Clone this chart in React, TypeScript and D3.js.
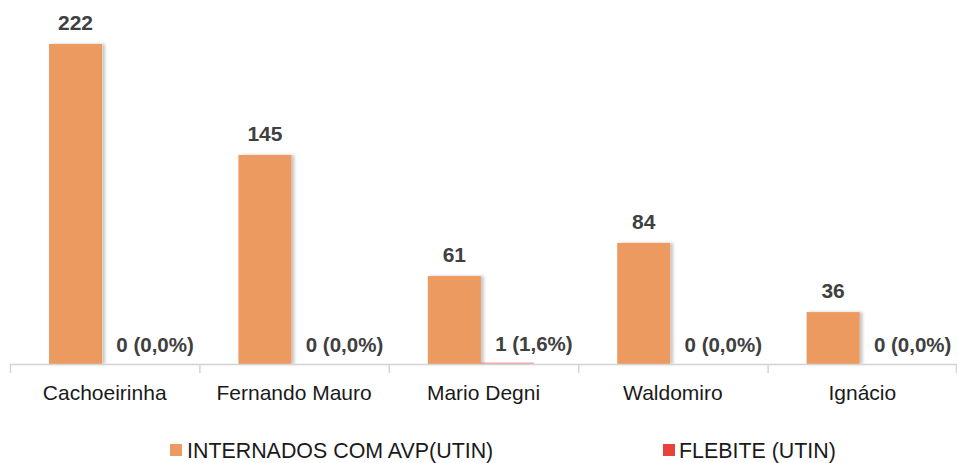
import React from "react";
import * as d3 from "d3";

const categories = ["Cachoeirinha", "Fernando Mauro", "Mario Degni", "Waldomiro", "Ignácio"];
const internados = [222, 145, 61, 84, 36];
const flebite = [0, 0, 1, 0, 0];
const flebiteLabels = ["0 (0,0%)", "0 (0,0%)", "1 (1,6%)", "0 (0,0%)", "0 (0,0%)"];
const seriesNames = ["INTERNADOS COM AVP(UTIN)", "FLEBITE (UTIN)"];

const W = 957;
const H = 463;
const ORANGE = "#EC9A61";
const RED = "#E8423B";
const FONT = "'Liberation Sans', Arial, sans-serif";

export default function App() {
  const left = 10;
  const right = 957;
  const baseY = 364;
  const x = d3.scaleBand<string>().domain(categories).range([left, right]).paddingInner(0).paddingOuter(0);
  const y = d3.scaleLinear().domain([0, 250]).range([baseY, baseY - 250 * (320 / 222)]);
  const bw = x.bandwidth();
  const barW = bw * 0.28;
  const offset = bw * 0.206;

  return (
    <div style={{ position: "absolute", left: 0, top: 0 }}>
      <svg width={W} height={H} style={{ display: "block", background: "#fff" }}>
        <defs>
          <filter id="sh" x="-20%" y="-5%" width="150%" height="110%">
            <feDropShadow dx="3" dy="0" stdDeviation="1.5" floodColor="#000" floodOpacity="0.22" />
          </filter>
        </defs>
        {categories.map((c, i) => {
          const x0 = x(c)!;
          const xo = x0 + offset;
          const xr = xo + barW;
          return (
            <g key={c}>
              <rect x={xo} y={y(internados[i])} width={barW} height={baseY - y(internados[i])} fill={ORANGE} filter="url(#sh)" />
              {flebite[i] > 0 && (
                <rect x={xr} y={y(flebite[i])} width={barW} height={baseY - y(flebite[i])} fill={RED} opacity={0.5} />
              )}
              <text x={xo + barW / 2} y={y(internados[i]) - 14} textAnchor="middle" fontFamily={FONT} fontWeight="bold" fontSize={21} fill="#404040">
                {internados[i]}
              </text>
              <text x={xr + barW} y={y(flebite[i]) - 12} textAnchor="middle" fontFamily={FONT} fontWeight="bold" fontSize={20.5} fill="#404040">
                {flebiteLabels[i]}
              </text>
              <text x={x0 + bw / 2} y={400} textAnchor="middle" fontFamily={FONT} fontSize={21} fill="#1a1a1a">
                {c}
              </text>
            </g>
          );
        })}
        <line x1={left} x2={right} y1={baseY + 0.5} y2={baseY + 0.5} stroke="#d4d4d4" strokeWidth={1.5} />
        {categories.map((c) => (
          <line key={"t" + c} x1={x(c)! + 0.5} x2={x(c)! + 0.5} y1={baseY} y2={baseY + 9} stroke="#d4d4d4" strokeWidth={1.5} />
        ))}
        <line x1={right - 0.5} x2={right - 0.5} y1={baseY} y2={baseY + 9} stroke="#d4d4d4" strokeWidth={1.5} />
        <g fontFamily={FONT} fontSize={21.4} fill="#1a1a1a">
          <rect x={170} y={444} width={12} height={12} fill={ORANGE} />
          <text x={187} y={458}>{seriesNames[0]}</text>
          <rect x={663} y={444} width={12} height={12} fill={RED} />
          <text x={679} y={458}>{seriesNames[1]}</text>
        </g>
      </svg>
    </div>
  );
}
